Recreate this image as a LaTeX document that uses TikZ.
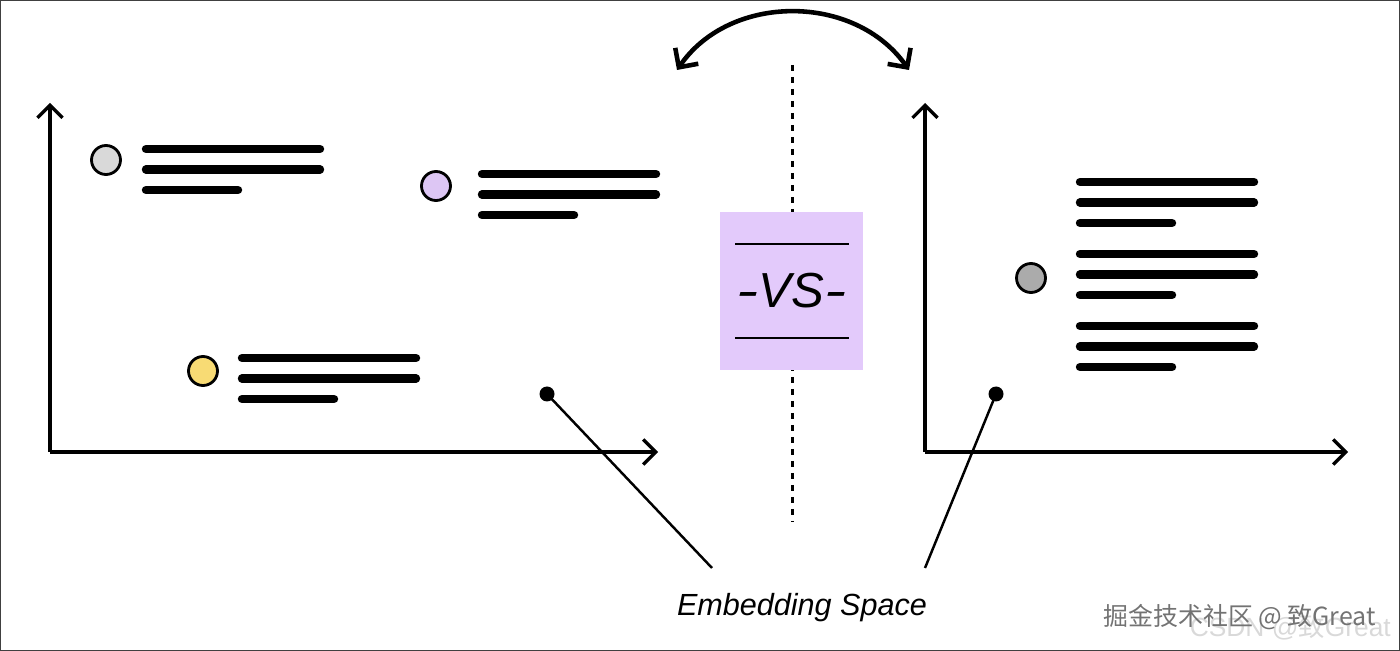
\documentclass[tikz,border=0pt]{standalone}
\usepackage{fontspec}
\setsansfont{Liberation Sans}
\newfontfamily\cjkfont{Noto Sans CJK SC}
\usetikzlibrary{arrows.meta}
\definecolor{ptgray}{HTML}{D9D9D9}
\definecolor{ptlilac}{HTML}{DDC6F4}
\definecolor{ptyellow}{HTML}{F8DB74}
\definecolor{ptdark}{HTML}{ABABAB}
\definecolor{vsfill}{HTML}{E3CAFB}

% three bars standing for a chunk of text
\newcommand\txtblock[2]{%
  \draw[bar] (#1,#2) -- +(174,0);
  \draw[bar] (#1,#2+20.5) -- +(174,0);
  \draw[bar] (#1,#2+41) -- +(92,0);}
\newcommand\wdash{\scalebox{1.35}[1]{-}}

\begin{document}
\begin{tikzpicture}[x=0.02cm,y=-0.02cm,
  ax/.style={line width=1.9pt,-{Straight Barb[length=2.5mm,width=5mm]}},
  bar/.style={line width=4.8pt,line cap=round},
  pt/.style={draw,circle,line width=1.6pt,minimum size=0.58cm,inner sep=0pt},
  dot/.style={circle,fill=black,minimum size=0.3cm,inner sep=0pt},
  vsbox/.style={fill=vsfill,minimum width=2.86cm,minimum height=3.16cm,inner sep=0pt,
    font=\sffamily\itshape\fontsize{28}{30}\selectfont},
  lab/.style={font=\sffamily\itshape\fontsize{17.4}{20}\selectfont}]
  \useasboundingbox (0,0) rectangle (1400,651);
  \draw[black!75,line width=0.9pt] (0.6,0.6) rectangle (1399.4,650.4);

  % left embedding space
  \coordinate (oL) at (50,452);
  \draw[ax] (oL) -- (50,103);
  \draw[ax] (oL) -- (658,452);
  \node[pt,fill=ptgray] (pt1) at (106,160) {};
  \txtblock{146}{149}
  \node[pt,fill=ptlilac] (pt2) at (436,186) {};
  \txtblock{482}{174}
  \node[pt,fill=ptyellow] (pt3) at (203,371) {};
  \txtblock{242}{358}
  \node[dot] (dotL) at (547,394) {};

  % right embedding space
  \coordinate (oR) at (925,452);
  \draw[ax] (oR) -- (925,103);
  \draw[ax] (oR) -- (1348,452);
  \node[pt,fill=ptdark] (pt4) at (1031,278) {};
  \foreach \y in {182,254,326} {\txtblock{1080}{\y}}
  \node[dot] (dotR) at (996,394) {};

  % swap arrow and divider
  \coordinate (swapL) at (677,70);
  \coordinate (swapR) at (909,70);
  \draw[line width=2.6pt,{Straight Barb[length=2.8mm,width=5.6mm]}-{Straight Barb[length=2.8mm,width=5.6mm]}]
    (swapL) .. controls (730,-7) and (855,-7) .. (swapR);
  \draw[line width=1.7pt,dash pattern=on 0.12cm off 0.12cm] (792,65) -- (792,522);
  \node[vsbox] (vs) at (791.5,291) {\wdash VS\wdash};
  \draw[line width=0.8pt] (735,244) -- (849,244);
  \draw[line width=0.8pt] (735,338) -- (849,338);

  % label
  \node[lab,anchor=base] (emb) at (802,616) {Embedding Space};
  \coordinate (tipL) at (712,568);
  \coordinate (tipR) at (925,568);
  \draw[line width=1.4pt] (dotL.center) -- (tipL);
  \draw[line width=1.4pt] (dotR.center) -- (tipR);

  % watermarks
  \node[anchor=east,text=black!15,font=\sffamily\fontsize{15}{18}\selectfont] (wm2) at (1397,627) {CSDN @\cjkfont 致\sffamily Great};
  \node[anchor=east,text=black!55,font=\cjkfont\fontsize{14.2}{17}\selectfont] (wm1) at (1382,617) {掘金技术社区 @ 致Great};
\end{tikzpicture}
\end{document}
